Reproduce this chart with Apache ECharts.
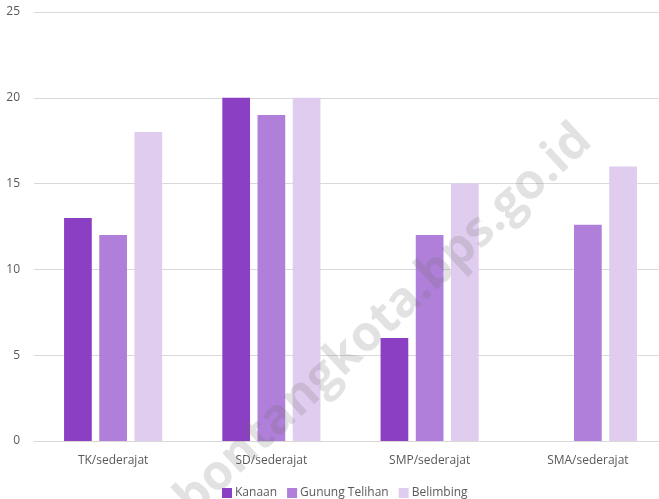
<!DOCTYPE html>
<html>
<head>
<meta charset="utf-8">
<script src="https://cdn.jsdelivr.net/npm/echarts@6/dist/echarts.min.js"></script>
<style>
  html,body{margin:0;padding:0;background:#fff;overflow:hidden;}
  #main{width:659px;height:499px;}
</style>
</head>
<body>
<div id="main"></div>
<script>
    var categories = ['TK/sederajat', 'SD/sederajat', 'SMP/sederajat', 'SMA/sederajat'];
    var kanaan = [13, 20, 6, 0];
    var gunungTelihan = [12, 19, 12, 12.6];
    var belimbing = [18, 20, 15, 16];
    var yTicks = [0, 5, 10, 15, 20, 25];

    var myChart = echarts.init(document.getElementById('main'));
    var textFont = '"Open Sans", sans-serif';
    var option = {
        animation: false,
        grid: { left: 34, width: 633, top: 12, height: 429, outerBoundsMode: 'none' },
        legend: {
            top: 482,
            left: 217,
            itemWidth: 10,
            itemHeight: 10,
            itemGap: 10,
            icon: 'rect',
            textStyle: { color: '#595959', fontSize: 12, fontFamily: textFont, padding: [0, 0, 0, -2] },
            data: ['Kanaan', 'Gunung Telihan', 'Belimbing']
        },
        xAxis: {
            type: 'category',
            data: categories,
            axisLine: { lineStyle: { color: '#d9d9d9' } },
            axisTick: { show: false },
            axisLabel: { color: '#595959', fontSize: 12, fontFamily: textFont, margin: 14 }
        },
        yAxis: {
            type: 'value',
            min: yTicks[0],
            max: yTicks[yTicks.length - 1],
            interval: 5,
            axisLine: { show: false },
            axisTick: { show: false },
            axisLabel: { color: '#595959', fontSize: 12, fontFamily: textFont, margin: 14 },
            splitLine: { lineStyle: { color: '#d9d9d9' } }
        },
        series: [
            { name: 'Kanaan', type: 'bar', data: kanaan, barGap: '27%', barCategoryGap: '38%',
              itemStyle: { color: '#8b3fc2' } },
            { name: 'Gunung Telihan', type: 'bar', data: gunungTelihan,
              itemStyle: { color: '#b07fd9' } },
            { name: 'Belimbing', type: 'bar', data: belimbing,
              itemStyle: { color: '#e0ccee' } }
        ],
        graphic: [{
            type: 'text',
            x: 384, y: 320,
            rotation: 0.75,
            z: 100,
            style: {
                text: 'bontangkota.bps.go.id',
                fill: 'rgba(110,110,110,0.2)',
                font: 'bold 49px "Open Sans", sans-serif',
                textAlign: 'center',
                textVerticalAlign: 'middle'
            }
        }]
    };
    myChart.setOption(option);
</script>
</body>
</html>
